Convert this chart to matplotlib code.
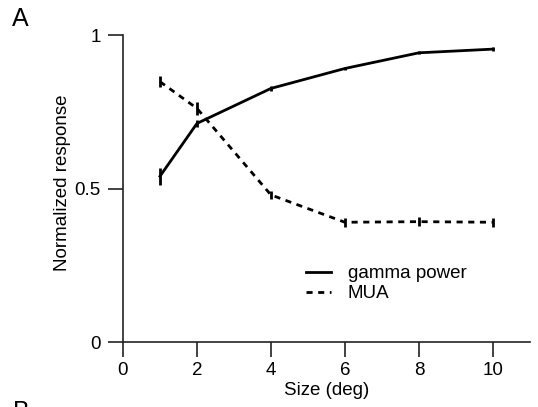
import matplotlib.pyplot as plt
from matplotlib.lines import Line2D

plt.rcParams['font.family'] = ['Liberation Sans', 'DejaVu Sans']

sizes = [1, 2, 4, 6, 8, 10]
gamma = [0.540, 0.712, 0.826, 0.891, 0.942, 0.954]
gamma_err = [0.027, 0.012, 0.008, 0.005, 0.005, 0.006]
mua = [0.848, 0.761, 0.479, 0.390, 0.392, 0.390]
mua_err = [0.017, 0.020, 0.014, 0.014, 0.014, 0.014]

dash = (0, (2.2, 2.0))

fig = plt.figure(figsize=(5.38, 4.07), dpi=100)
ax = fig.add_axes([0.2286, 0.1597, 0.7564, 0.7543])

ax.errorbar(sizes, gamma, yerr=gamma_err, color='black', lw=2, elinewidth=2,
            capsize=0)
ax.errorbar(sizes, mua, yerr=mua_err, color='black', lw=2, elinewidth=2,
            capsize=0, ls=dash)

ax.set_xlim(0, 11)
ax.set_ylim(0, 1)
ax.set_xticks([0, 2, 4, 6, 8, 10])
ax.set_yticks([0, 0.5, 1])
ax.set_yticklabels(['0', '0.5', '1'])
ax.spines['top'].set_visible(False)
ax.spines['right'].set_visible(False)
for s in ['left', 'bottom']:
    ax.spines[s].set_color('#222222')
    ax.spines[s].set_linewidth(1.2)
ax.tick_params(length=11, width=1.2, color='#222222', labelsize=13.5)
ax.tick_params(axis='x', pad=3.5)
ax.tick_params(axis='y', pad=5)

ax.set_xlabel('Size (deg)', fontsize=13.5, labelpad=2)
ax.set_ylabel('Normalized response', fontsize=13.5)
ax.yaxis.set_label_coords(-0.127, 0.518)

handles = [Line2D([], [], color='black', lw=2),
           Line2D([], [], color='black', lw=2, ls=dash)]
ax.legend(handles, ['gamma power', 'MUA'], loc='lower left',
          bbox_to_anchor=(0.409, 0.075), frameon=False, fontsize=13.5,
          handlelength=1.3, handletextpad=0.9, labelspacing=0.15)

fig.text(0.022, 0.935, 'A', fontsize=18)
fig.text(0.025, -0.03, 'B', fontsize=18)

fig.savefig('out.png', dpi=100)
